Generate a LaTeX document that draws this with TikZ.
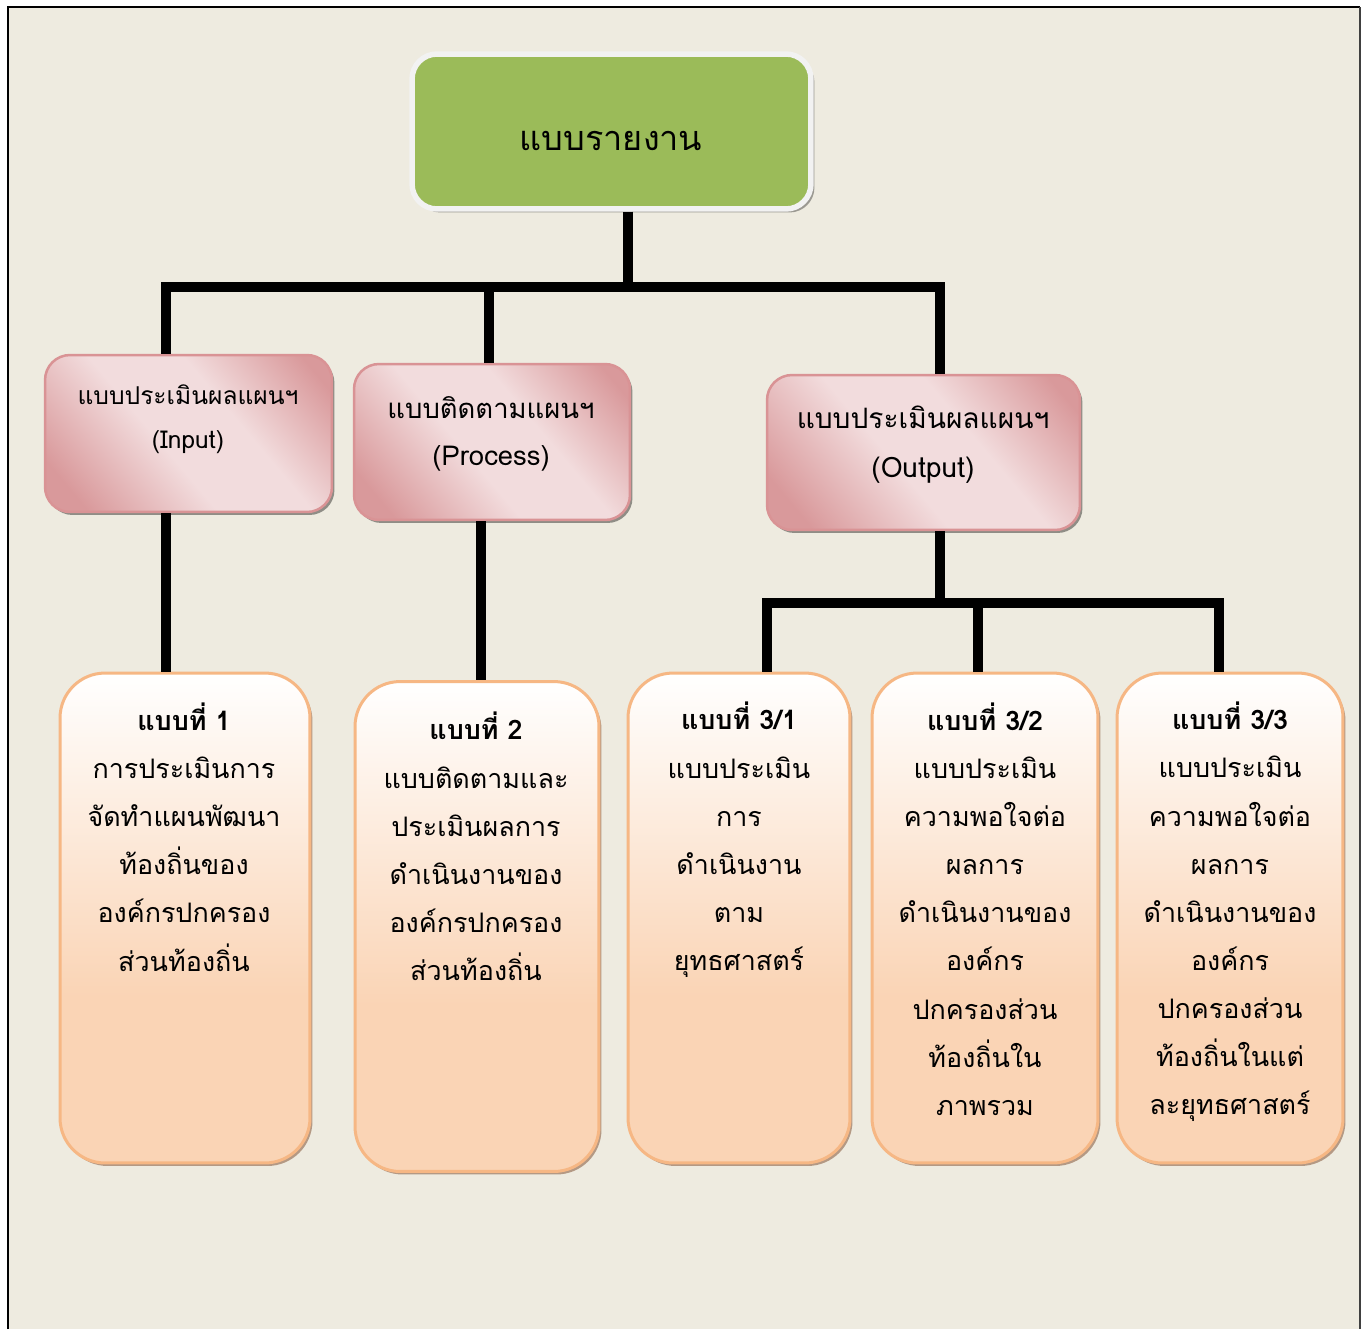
\documentclass[tikz,border=0pt]{standalone}
\usepackage{fontspec}
\newfontfamily\thaifont[Script=Thai]{Loma}
\usetikzlibrary{shadows}

\definecolor{pagebg}{HTML}{EEEBE0}
\definecolor{leafgreen}{HTML}{9BBB59}
\definecolor{pinkdark}{HTML}{D9999B}
\definecolor{pinklight}{HTML}{F2DCDD}
\definecolor{pinkedge}{HTML}{D99395}
\definecolor{peach}{HTML}{FAD4B5}
\definecolor{peachedge}{HTML}{F6B784}

\pgfdeclarehorizontalshading{pinkband}{100bp}{color(0bp)=(pinkdark); color(22bp)=(pinkdark); color(44bp)=(pinklight); color(60bp)=(pinklight); color(80bp)=(pinkdark); color(100bp)=(pinkdark)}
\pgfdeclareverticalshading{peachfade}{100bp}{color(0bp)=(peach); color(42bp)=(peach); color(75bp)=(white); color(100bp)=(white)}

\tikzset{
  headbox/.style={rectangle, rounded corners=0.5cm, fill=leafgreen, draw=white!95!black,
    line width=0.11cm, drop shadow={shadow xshift=0.07cm, shadow yshift=-0.07cm, fill=black!35!pagebg, opacity=1}},
  kindbox/.style={rectangle, rounded corners=0.5cm, shading=pinkband, shading angle=40,
    draw=pinkedge, line width=0.05cm, drop shadow={shadow xshift=0.05cm, shadow yshift=-0.06cm, fill=black!40!pagebg, opacity=1}},
  formbox/.style={rectangle, rounded corners=0.9cm, shading=peachfade, draw=peachedge,
    line width=0.06cm, minimum height=9.8cm, drop shadow={shadow xshift=0.05cm, shadow yshift=-0.06cm, fill=peachedge!60!black!70, opacity=1}},
  formtext/.style={align=center, font=\thaifont\fontsize{15.3}{27.4}\selectfont, inner sep=0pt},
  link/.style={line width=0.2cm, draw=black}
}

\begin{document}
\begin{tikzpicture}[x=0.02cm, y=-0.02cm]
  \useasboundingbox (0,0) rectangle (1369,1329);
  \fill[white] (0,0) rectangle (1369,1329);
  \fill[pagebg] (8,7) rectangle (1360,1329);
  \draw[line width=0.04cm] (8,1329) -- (8,7) -- (1360,7);
  \draw[line width=0.04cm, black!75] (1360,7) -- (1360,1329);

  % top level
  \node (title) [headbox, minimum width=7.98cm, minimum height=3.1cm] at (611.5,131.5) {};
  \node (titletext) [font=\thaifont\fontsize{19.5}{24}\selectfont] at (611,141) {แบบรายงาน};

  % second level
  \node (p1) [kindbox, minimum width=5.74cm, minimum height=3.14cm] at (188.5,433.5) {};
  \node (p2) [kindbox, minimum width=5.52cm, minimum height=3.12cm] at (492,442) {};
  \node (p3) [kindbox, minimum width=6.26cm, minimum height=3.1cm] at (923.5,452.5) {};
  \node (p1text) [align=center, font=\thaifont\fontsize{14}{25}\selectfont] at (188,419) {แบบประเมินผลแผนฯ\\(Input)};
  \node (p2text) [align=center, font=\thaifont\fontsize{15.6}{27}\selectfont] at (491,434) {แบบติดตามแผนฯ\\(Process)};
  \node (p3text) [align=center, font=\thaifont\fontsize{16}{28}\selectfont] at (923,445) {แบบประเมินผลแผนฯ\\(Output)};

  % forms
  \node (b1) [formbox, minimum width=5cm] at (185,918) {};
  \node (b2) [formbox, minimum width=4.88cm] at (477,926.5) {};
  \node (b3) [formbox, minimum width=4.44cm] at (739,918) {};
  \node (b4) [formbox, minimum width=4.52cm] at (985,918) {};
  \node (b5) [formbox, minimum width=4.52cm] at (1230,918) {};
  \node (b1text) [formtext] at (184,837) {\textbf{แบบที่ 1}\\การประเมินการ\\จัดทำแผนพัฒนา\\ท้องถิ่นของ\\องค์กรปกครอง\\ส่วนท้องถิ่น};
  \node (b2text) [formtext] at (476,846.5) {\textbf{แบบที่ 2}\\แบบติดตามและ\\ประเมินผลการ\\ดำเนินงานของ\\องค์กรปกครอง\\ส่วนท้องถิ่น};
  \node (b3text) [formtext] at (739,840) {\textbf{แบบที่ 3/1}\\แบบประเมิน\\การ\\ดำเนินงาน\\ตาม\\ยุทธศาสตร์};
  \node (b4text) [formtext] at (985,909) {\textbf{แบบที่ 3/2}\\แบบประเมิน\\ความพอใจต่อ\\ผลการ\\ดำเนินงานของ\\องค์กร\\ปกครองส่วน\\ท้องถิ่นใน\\ภาพรวม};
  \node (b5text) [formtext] at (1230,912) {\textbf{แบบที่ 3/3}\\แบบประเมิน\\ความพอใจต่อ\\ผลการ\\ดำเนินงานของ\\องค์กร\\ปกครองส่วน\\ท้องถิ่นในแต่\\ละยุทธศาสตร์};

  % connectors
  \coordinate (hub) at (628,287);
  \coordinate (hubL) at (166,287);
  \coordinate (hubM) at (489,287);
  \coordinate (hubR) at (940,287);
  \coordinate (drop2) at (481,600);
  \coordinate (fork) at (940,603);
  \coordinate (forkL) at (767,603);
  \coordinate (forkM) at (978,603);
  \coordinate (forkR) at (1219,603);
  \draw[link] (title.south -| hub) -- (hub);
  \draw[link] (p1.north -| hubL) -- (hubL) -- (hubR) -- (p3.north -| hubR);
  \draw[link] (hubM) -- (p2.north -| hubM);
  \draw[link] (p1.south -| hubL) -- (b1.north -| hubL);
  \draw[link] (p2.south -| drop2) -- (b2.north -| drop2);
  \draw[link] (p3.south -| fork) -- (fork);
  \draw[link] (b3.north -| forkL) -- (forkL) -- (forkR) -- (b5.north -| forkR);
  \draw[link] (forkM) -- (b4.north -| forkM);
\end{tikzpicture}
\end{document}
